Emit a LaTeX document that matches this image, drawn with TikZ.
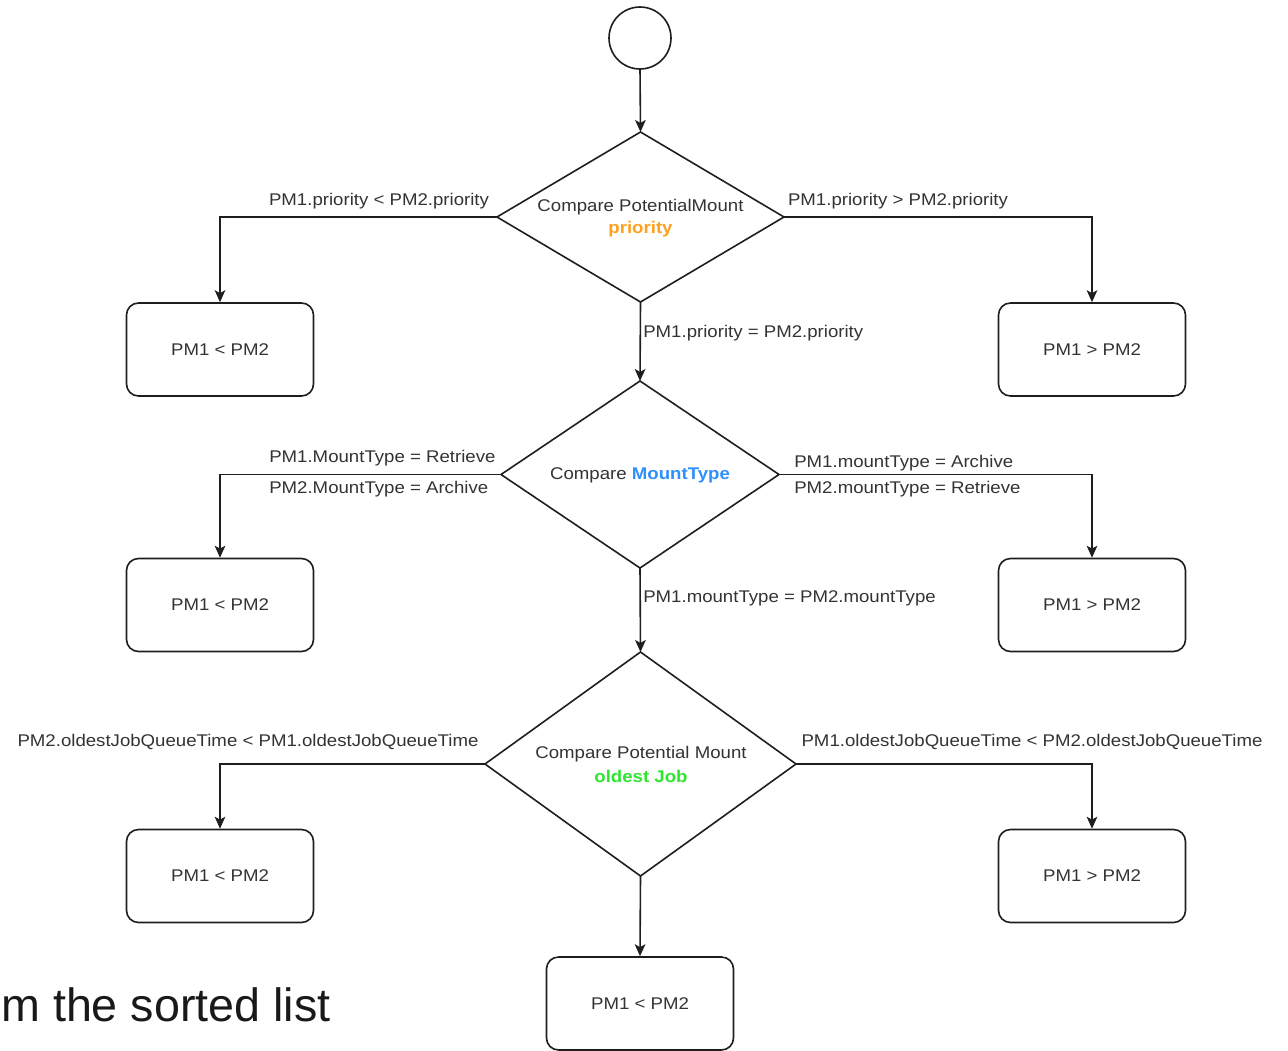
\documentclass[tikz,border=0pt]{standalone}
\usepackage{fontspec}
\setmainfont{Liberation Sans}
\newfontfamily\lblfont[FakeStretch=1.1]{Liberation Sans}
\usetikzlibrary{shapes.geometric,arrows.meta}
\definecolor{txtgray}{HTML}{333333}
\definecolor{linecol}{HTML}{1E1E1E}
\definecolor{prioorange}{HTML}{FFA01E}
\definecolor{mtblue}{HTML}{2E8FFF}
\definecolor{jobgreen}{HTML}{2EE62E}
\newcommand{\pxu}{0.75pt}
\tikzset{
  conn/.style={draw=linecol, line width=1.2pt, -{Stealth[length=9pt,width=8pt,inset=2.2pt]}},
  lbl/.style={font=\lblfont\fontsize{12.7pt}{15pt}\selectfont, text=txtgray, inner sep=0pt},
  resbox/.style={draw=linecol, line width=1.2pt, rounded corners=9pt, minimum width={187*\pxu}, minimum height={93*\pxu}, inner sep=0pt, font=\lblfont\fontsize{12.7pt}{15pt}\selectfont, text=txtgray},
  decision/.style={diamond, draw=linecol, line width=1.2pt, inner sep=0pt, outer sep=0pt},
  startnode/.style={circle, draw=linecol, line width=1.2pt, minimum size={62*\pxu}, inner sep=0pt, outer sep=0pt}
}
\begin{document}
\begin{tikzpicture}[x=0.75pt, y=-0.75pt]
\useasboundingbox (0,0) rectangle (1288,1050);

% start
\node[startnode] (start) at (640,38) {};

% decisions
\node[decision, minimum width={287*\pxu}, minimum height={170*\pxu}] (d1) at (640.5,217) {};
\node[decision, minimum width={278*\pxu}, minimum height={187*\pxu}] (d2) at (640,474.5) {};
\node[decision, minimum width={311*\pxu}, minimum height={224*\pxu}] (d3) at (640.5,764) {};

% decision texts
\node[lbl] (d1t1) at (640.5,207) {Compare PotentialMount};
\node[lbl, text=prioorange] (d1t2) at (640.5,229) {\bfseries priority};
\node[lbl] (d2t1) at (640,475.5) {Compare \textcolor{mtblue}{\bfseries MountType}};
\node[lbl] (d3t1) at (641,754) {Compare Potential Mount};
\node[lbl, text=jobgreen] (d3t2) at (641,776) {\bfseries oldest Job};

% result boxes
\node[resbox] (b1l) at (220,349.5) {PM1 < PM2};
\node[resbox] (b1r) at (1092,349.5) {PM1 > PM2};
\node[resbox] (b2l) at (220,605) {PM1 < PM2};
\node[resbox] (b2r) at (1092,605) {PM1 > PM2};
\node[resbox] (b3l) at (220,876) {PM1 < PM2};
\node[resbox] (b3r) at (1092,876) {PM1 > PM2};
\node[resbox] (b4) at (640,1003.5) {PM1 < PM2};

% connectors
\draw[conn] (start.south) -- (d1.north);
\draw[conn] (d1.west) -| (b1l.north);
\draw[conn] (d1.east) -| (b1r.north);
\draw[conn] (d1.south) -- (d2.north);
\draw[conn] (d2.west) -| (b2l.north);
\draw[conn] (d2.east) -| (b2r.north);
\draw[conn] (d2.south) -- (d3.north);
\draw[conn] (d3.west) -| (b3l.north);
\draw[conn] (d3.east) -| (b3r.north);
\draw[conn] (d3.south) -- (b4.north);

% connector labels
\node[lbl] (l1l) at (379,201.5) {PM1.priority < PM2.priority};
\node[lbl] (l1r) at (898,201.5) {PM1.priority > PM2.priority};
\node[lbl, anchor=west] (l1m) at (643,333.5) {PM1.priority = PM2.priority};
\node[lbl, anchor=west] (l2la) at (269,458.5) {PM1.MountType = Retrieve};
\node[lbl, anchor=west] (l2lb) at (269,489.5) {PM2.MountType = Archive};
\node[lbl, anchor=west] (l2ra) at (794,463.5) {PM1.mountType = Archive};
\node[lbl, anchor=west] (l2rb) at (794,489.5) {PM2.mountType = Retrieve};
\node[lbl, anchor=west] (l2m) at (643,598.5) {PM1.mountType = PM2.mountType};
\node[lbl] (l3l) at (248,741.5) {PM2.oldestJobQueueTime < PM1.oldestJobQueueTime};
\node[lbl] (l3r) at (1032,741.5) {PM1.oldestJobQueueTime < PM2.oldestJobQueueTime};

% cut-off slide text
\node[anchor=base west, inner sep=0pt, font=\fontsize{35pt}{40pt}\selectfont, text=black!90] (slidetxt) at (1,1021) {m the sorted list};
\end{tikzpicture}
\end{document}
